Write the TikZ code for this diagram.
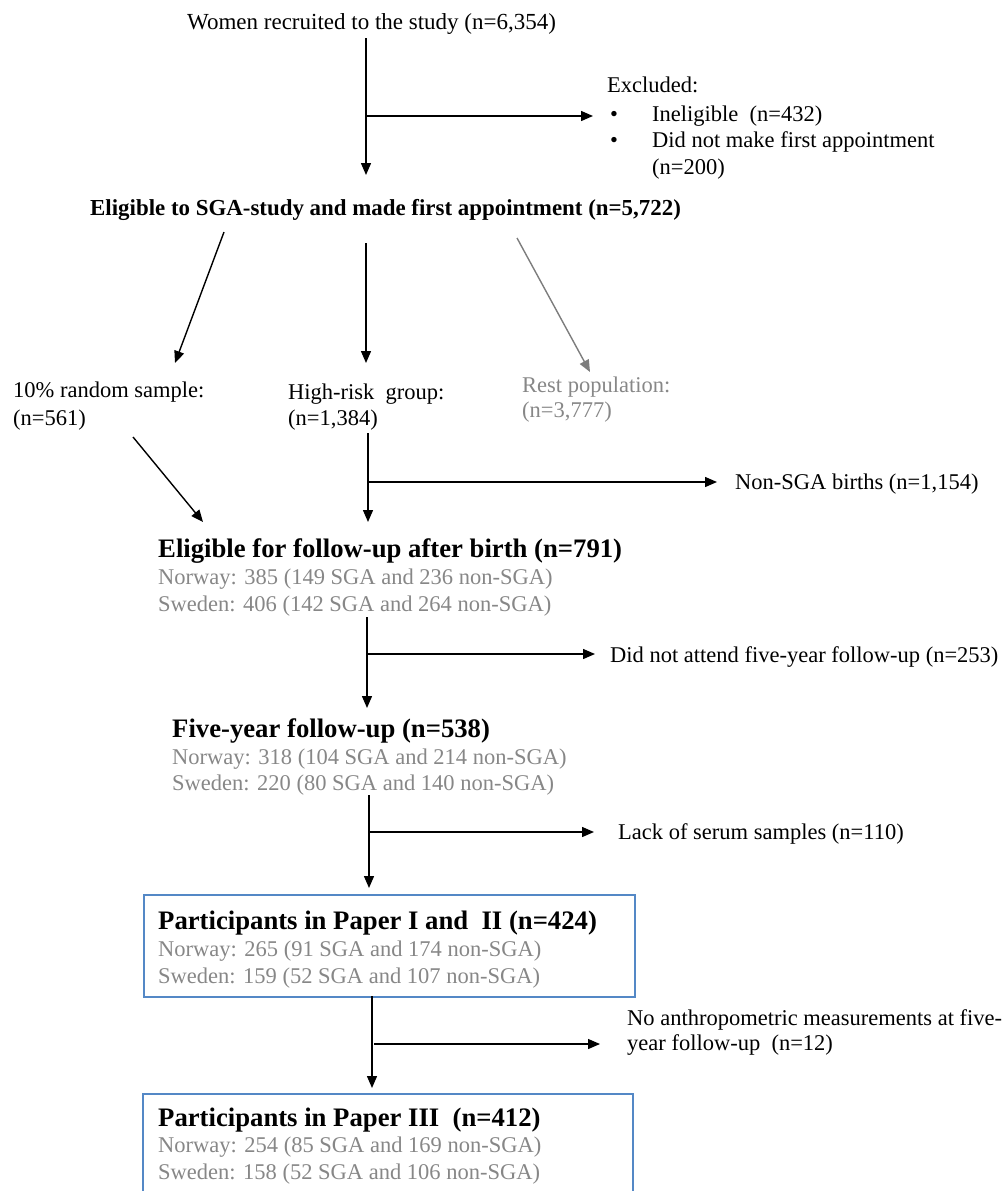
\documentclass[tikz,border=0pt]{standalone}
\usepackage{fontspec}
\setmainfont{Liberation Serif}
\usetikzlibrary{arrows.meta}
\definecolor{txtgray}{RGB}{135,135,135}
\definecolor{arrgray}{RGB}{125,125,125}
\definecolor{boxblue}{RGB}{84,136,198}
\begin{document}
\begin{tikzpicture}[x=1pt,y=-1pt,
  txt/.style={inner sep=0pt, anchor=base west, font=\fontsize{22.5}{27}\selectfont},
  grt/.style={txt, text=txtgray},
  bld/.style={txt, font=\fontsize{22.9}{27}\selectfont\bfseries},
  hd/.style={txt, font=\fontsize{26.7}{31}\selectfont\bfseries},
  arr/.style={draw=black, line width=1.4pt, -{Triangle[length=12pt,width=10pt]}},
  garr/.style={draw=arrgray, line width=1.4pt, -{Triangle[length=12pt,width=10pt]}},
  bx/.style={draw=boxblue, line width=2.2pt, inner sep=0pt, anchor=north west}]
\useasboundingbox (0,0) rectangle (1006,1191);
\clip (0,0) rectangle (1006,1191);

% ---- texts ----
\node[txt, font=\fontsize{23}{27}\selectfont] (title) at (187,29.5) {Women recruited to the study (n=6,354)};
\node[txt] (excl) at (607,92.5) {Excluded:};
\node[txt, anchor=base] (b1) at (614,121) {•};
\node[txt] (excl1) at (652,121) {Ineligible\ \ (n=432)};
\node[txt, anchor=base] (b2) at (614,147.5) {•};
\node[txt] (excl2) at (652,147.5) {Did not make first appointment};
\node[txt] (excl3) at (652,174) {(n=200)};

\node[bld] (elig) at (90,215.5) {Eligible to SGA-study and made first appointment (n=5,722)};

\node[txt] (rand1) at (13,397.5) {10\% random sample:};
\node[txt] (rand2) at (13,425.5) {(n=561)};
\node[txt] (high1) at (288,399.5) {High-risk\ \ group:};
\node[txt] (high2) at (288,425.5) {(n=1,384)};
\node[grt] (rest1) at (522,392.5) {Rest population:};
\node[grt] (rest2) at (522,417.5) {(n=3,777)};

\node[txt] (nonsga) at (735,489.5) {Non-SGA births (n=1,154)};

\node[hd] (fu) at (158,557) {Eligible for follow-up after birth (n=791)};
\node[grt] (fuN) at (158,584.5) {Norway: 385 (149 SGA and 236 non-SGA)};
\node[grt] (fuS) at (158,611.5) {Sweden: 406 (142 SGA and 264 non-SGA)};

\node[txt] (dna) at (610,662.5) {Did not attend five-year follow-up\ (n=253)};

\node[hd] (five) at (172,737) {Five-year follow-up (n=538)};
\node[grt] (fiveN) at (172,764.5) {Norway: 318 (104 SGA and 214 non-SGA)};
\node[grt] (fiveS) at (172,790.5) {Sweden: 220 (80 SGA and 140 non-SGA)};

\node[txt] (lack) at (618,839.5) {Lack of serum samples (n=110)};

\node[bx, minimum width=491pt, minimum height=102pt] (box1) at (143,894) {};
\node[hd] (p1) at (158,929) {Participants in Paper I and\ \ II (n=424)};
\node[grt] (p1N) at (158,956.5) {Norway: 265 (91 SGA and 174 non-SGA)};
\node[grt] (p1S) at (158,983.5) {Sweden: 159 (52 SGA and 107 non-SGA)};

\node[txt] (noant1) at (627,1025.5) {No anthropometric measurements at five-};
\node[txt] (noant2) at (627,1050.5) {year follow-up\ \ (n=12)};

\node[bx, minimum width=490pt, minimum height=130pt] (box2) at (142,1093) {};
\node[hd] (p3) at (158,1126) {Participants in Paper III\ \ (n=412)};
\node[grt] (p3N) at (158,1152.5) {Norway: 254 (85 SGA and 169 non-SGA)};
\node[grt] (p3S) at (158,1179.5) {Sweden: 158 (52 SGA and 106 non-SGA)};

% ---- connector points ----
\coordinate (a1s) at (366,38);   \coordinate (a1e) at (366,175);
\coordinate (a1b) at (366,116);  \coordinate (a1t) at (593,116);
\coordinate (a2s) at (224,232);  \coordinate (a2e) at (175,363);
\coordinate (a3s) at (366,243);  \coordinate (a3e) at (366,363);
\coordinate (a4s) at (517,238);  \coordinate (a4e) at (590,372);
\coordinate (a5s) at (133,437);  \coordinate (a5e) at (203,522);
\coordinate (a6s) at (368,433);  \coordinate (a6e) at (368,522);
\coordinate (a6b) at (368,482);  \coordinate (a6t) at (717,482);
\coordinate (a7s) at (367,617);  \coordinate (a7e) at (367,708);
\coordinate (a7b) at (367,654);  \coordinate (a7t) at (595,654);
\coordinate (a8s) at (369,795);  \coordinate (a8e) at (369,888);
\coordinate (a8b) at (369,832);  \coordinate (a8t) at (594,832);
\coordinate (a9s) at (372,996);  \coordinate (a9e) at (372,1088);
\coordinate (a9b) at (374,1044); \coordinate (a9t) at (600,1044);

% ---- connectors ----
\draw[arr] (a1s) -- (a1e);
\draw[arr] (a1b) -- (a1t);
\draw[arr] (a2s) -- (a2e);
\draw[arr] (a3s) -- (a3e);
\draw[garr] (a4s) -- (a4e);
\draw[arr] (a5s) -- (a5e);
\draw[arr] (a6s) -- (a6e);
\draw[arr] (a6b) -- (a6t);
\draw[arr] (a7s) -- (a7e);
\draw[arr] (a7b) -- (a7t);
\draw[arr] (a8s) -- (a8e);
\draw[arr] (a8b) -- (a8t);
\draw[arr] (a9s) -- (a9e);
\draw[arr] (a9b) -- (a9t);
\end{tikzpicture}
\end{document}
